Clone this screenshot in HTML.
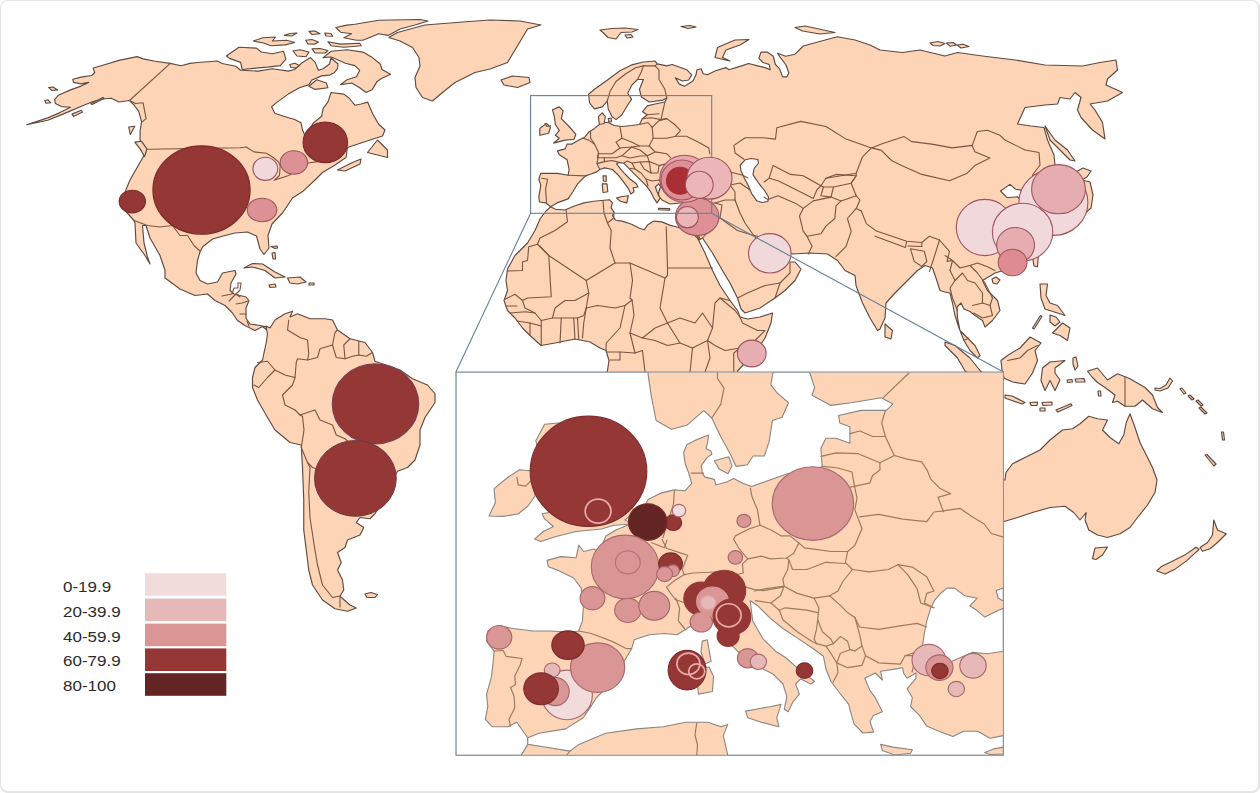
<!DOCTYPE html>
<html lang="en"><head><meta charset="utf-8"><title>Map</title>
<style>
html,body{margin:0;padding:0;background:#fff;}
body{width:1260px;height:793px;overflow:hidden;position:relative;font-family:"Liberation Sans",sans-serif;}
#frame{position:absolute;left:0;top:0;width:1257px;height:790px;border:1px solid #e4e4e4;border-right-width:2px;border-bottom-width:2px;border-radius:8px;}
svg{position:absolute;left:0;top:0;}
.lg{position:absolute;left:63px;font-size:17px;line-height:17px;color:#2b2b2b;letter-spacing:0px;transform-origin:left bottom;transform:scaleY(0.88);}
</style></head><body>
<svg width="1260" height="793" viewBox="0 0 1260 793">
<defs><clipPath id="ic"><rect x="455.9" y="372.0" width="547.5" height="383.29999999999995"/></clipPath></defs>

<g id="land">
<polygon points="26.6,124.7 47.8,117.9 59.9,112.6 70.5,107.3 61.4,106.6 55.4,103.5 54.6,99.7 58.4,95.2 70.5,89.9 81.1,86.1 88.7,82.4 81.1,83.9 73.5,82.4 72.8,79.3 81.1,77.1 91.7,75.5 94.7,72.5 93.2,68 103.8,65 118.9,60.4 137.1,56.6 143.1,58.9 155.2,61.2 170.3,63.4 180.9,65.7 190,63.4 197.5,62.5 217.5,61 222,63.5 235.9,66.3 240.6,70.3 258.1,71.1 272.4,68.7 288.3,71.1 294.6,69.5 302.5,62.4 310.5,57.6 315.2,62.4 318.4,70.3 323.2,68.7 329.5,64 331,58 338,64 337.5,68.7 334.3,72.7 329.5,75.1 321.6,75.9 312,80 308.9,84.6 299.4,87.8 288.3,94.1 277.1,102.1 271.6,106.8 274.8,113.2 283.5,116.3 294.6,119.5 301,122.7 302.5,130 306,138 310,128 313.7,122.7 321.6,116.3 323.2,108.4 327.9,102.1 331.1,92.5 343.8,94.1 349,98 354.9,105.2 361,104 367.6,102.1 372.4,113.2 378.7,124.3 385,130 382.5,136 370,140 355,145 347.5,147.5 346,157.5 335,165 322.5,172.5 315,180 302.6,191.6 292.5,198 282.5,213 272,224 268,235.5 269,248 264,254.5 260,249 256.5,236 247.5,232 235,233 225,235.5 212.5,239 202.5,247 200,252 197.5,260.5 196,273 200,280.5 207.5,284 217.5,282 222.5,273 235,270.5 236,274 231,283 230,290.5 234,294 246,297 249,300.5 246,308 246,318 250,324 260,325.5 267.5,327 268,331 262.5,326.5 255,330.5 245,325.5 237.5,320.5 232.5,313 225,305.5 215,300.5 207.5,294 195,295.5 180,289 165,278 165,270.5 160,255.5 150,238 146,225.5 142.5,225.5 144,243 147.5,257 150,264 145,255.5 136,243 135,223 134,220.5 125,210.5 122.5,198 130,180 140,162.5 146,152 143.1,148.9 140.1,139.8 140.1,130.8 141.6,121.7 138.6,111.1 134,105 129.5,100.5 118.9,102 111.3,98.2 102.3,99 91.7,102 82.6,105.8 73.5,109.6 62.9,114.1 47.8,120.2" fill="#fdd4b5" stroke="#5f4a40" stroke-width="1.15" stroke-linejoin="round"/>
<polygon points="266,326 270,328 275,320 285,313.75 292.5,311.25 290,317 297.5,313.75 310,318.75 325,318.75 332.5,320 337.5,330 350,338.75 365,342.5 372.5,352.5 375,361.25 400,370 412.5,378.75 427.5,385 435,393.75 435,402.5 425,417.5 420,430 420,445 415,460 407.5,467.5 397.5,471.25 385,495 375,513.75 370,518.75 360,517.5 356.25,522.5 363.75,527.5 360,535 347.5,540 345,547.5 337.5,552.5 341.25,562.5 337.5,570 342.5,580 343.75,590 340,596.25 350,605 356.25,608 347.5,611.25 335,608.75 322.5,600 312.5,585 308.75,570 306.25,550 303.75,530 303.75,500 302.5,467.5 301.25,445 290,442.5 275,430 267.5,417.5 257.5,400 252.5,387.5 252.5,377.5 255,367.5 262.5,360 266.25,342.5 267.5,334" fill="#fdd4b5" stroke="#5f4a40" stroke-width="1.15" stroke-linejoin="round"/>
<polygon points="388.75,37.5 397.5,32.5 425,25 462.5,22 490,20 520,21 541,25 527.5,29 522.5,37.5 515,50 507.5,62.5 490,69 475,72.5 455,82.5 442.5,92.5 432.5,101 422.5,97.5 416,87.5 415,77.5 420,66 419,57.5 412.5,47.5 400,41" fill="#fdd4b5" stroke="#5f4a40" stroke-width="1.15" stroke-linejoin="round"/>
<polygon points="501,80 512.5,76 529,77.5 530,82.5 517.5,87.5 504,85" fill="#fdd4b5" stroke="#5f4a40" stroke-width="1.15" stroke-linejoin="round"/>
<polygon points="367.5,152.5 377.5,140 387.5,150 387.5,157.5 377.5,155" fill="#fdd4b5" stroke="#5f4a40" stroke-width="1.15" stroke-linejoin="round"/>
<polygon points="337.5,170 352.5,162.5 361,159 360,164 345,171" fill="#fdd4b5" stroke="#5f4a40" stroke-width="1.15" stroke-linejoin="round"/>
<polygon points="134.8,142.1 141.6,141.3 146.9,148.9 144.6,156.5 140.1,148.9" fill="#fdd4b5" stroke="#5f4a40" stroke-width="1.15" stroke-linejoin="round"/>
<polygon points="244,268 252.5,263.5 262.5,264 275,272 285,277 275,278 265,270.5 252.5,267" fill="#fdd4b5" stroke="#5f4a40" stroke-width="1.15" stroke-linejoin="round"/>
<polygon points="287.5,278 300,277 306,282 297.5,284 290,283" fill="#fdd4b5" stroke="#5f4a40" stroke-width="1.15" stroke-linejoin="round"/>
<polygon points="269,285 275,284 276,287 270,287.5" fill="#fdd4b5" stroke="#5f4a40" stroke-width="1.15" stroke-linejoin="round"/>
<polygon points="309,283 314,283 314,285 309,285" fill="#fdd4b5" stroke="#5f4a40" stroke-width="1.15" stroke-linejoin="round"/>
<polygon points="550.6,206.8 555.4,209.2 564.9,210 574.4,206 584,202.9 593.5,201.3 601.4,200.5 609.4,199.7 612.5,202.9 611,207.6 614.1,212.4 612.5,215.6 615.7,220.3 622.1,221.1 631.6,224.3 639.5,228.3 644.3,229.8 647.5,225.1 653.8,221.1 661.7,221.9 669.7,225.1 676,226.7 690,231 697.5,238 705,253 712.5,270.5 720,285.5 730,300.5 737.5,310.5 740,317 747.5,319 760,317 772.5,313 771,323 765,338 755,353 745,363 737.5,371 735,400 600,400 607.5,370.5 609,360.5 606,350.5 600,348 590,342 575,339 555,343 541,345.5 530,335.5 522.5,328 515,318 507.5,310.5 504,300.5 507.5,290.5 506,280.5 507.5,269 515,255.5 527.5,243 535,230.5 540,219 546,211" fill="#fdd4b5" stroke="#5f4a40" stroke-width="1.15" stroke-linejoin="round"/>
<polygon points="538.8,179.2 540.8,173.4 557.4,173.4 568.1,175.3 569.1,169.5 567.1,159.7 559.3,154.8 557.4,150.9 565.2,148.9 567.1,144.1 572,144.1 578.9,140.1 584.7,137.2 588.6,132.3 594.5,128.4 599.4,124.5 598.4,116.7 602.3,112.8 605.3,116.7 604.3,122.5 608.2,122.5 614.1,125.5 621.9,126.5 631.6,125.5 639.5,124.5 642.4,118.6 647.3,114.7 642.4,111.8 647.3,105.9 655.1,104 664.9,102 666.8,98.1 662.9,100.1 649.2,102 641.4,97.1 639.5,89.3 643.4,79.5 637.5,79.5 631.6,85.4 627.7,93.2 631.6,99.1 627.7,105 621.9,114.7 616,119.6 612.1,116.7 608.2,108.9 607.2,101 602.3,106.9 594.5,108.9 589.6,103 588.6,94.2 594.5,89.3 608.2,79.5 619.9,70.8 631.6,64.9 643.4,62 655.1,61 657.1,63.9 666.8,65.9 672.2,64.5 686.7,69.7 691.8,74.8 688.7,80 682.5,81 675.3,77.9 679.4,84.1 684.6,86.2 692.9,81 696,74.8 697,69.7 701.1,68.7 703.2,73.8 707.3,74.8 715.6,70.7 725.9,67.6 729,69.7 742.4,65.6 748.6,63.5 756.8,65.6 765.1,67.6 770.2,69.7 769.2,64.5 763,62.5 758.9,58.3 761,52.1 767.1,52.1 773.3,56.3 775.4,64.5 779.5,68.7 782.6,76.9 786.8,76.9 788.8,72.8 785.7,64.5 779.5,56.3 777.5,53.2 785.7,56.3 795,54.2 803.3,46 818.7,41.8 837.3,36.7 855,40 870,45 880,50 902.5,52.5 920,50 945,56 957.5,52.5 982.5,56 1015,60 1045,65 1082.5,66 1100,62.5 1116,60 1117.5,70 1107.5,79 1106,85 1122.5,92.5 1107.5,101 1090,104 1095,110 1102.5,122.5 1105,139 1092.5,130 1081,117.5 1077.5,110 1081,97.5 1075,92.5 1070,99 1060,97.5 1057.5,104 1045,105 1025,107.5 1017.5,124 1031,126 1044,127.5 1047.5,140 1054,155 1055,165 1050,180 1040,195 1045,200 1050,215 1040,218 1035,205 1021.3,190.1 1015.6,189.2 1010,184.4 1000.5,191 1007.1,197.7 1017.5,196.7 1025,205 1020,215 1030,230 1025,250 1015,262 1005,270 995,273 982.5,280.5 987.5,290.5 997.5,300.5 1000,310.5 992.5,320.5 985,327 982.5,320.5 975,315.5 970,311.5 964,309 961,303 957,307 957.5,318 960,330.5 967.5,338 975,345.5 980,355.5 977.5,358 970,350.5 964,340.5 959,328 955,315.5 952.5,303 950,293 945,292 940,290.5 936,278 932.5,268 925,265.5 917.5,270.5 907.5,280.5 895,293 886,303 885,318 880,329 877.5,330.5 870,318 862.5,303 856,285.5 855,275.5 845,270.5 837.5,260.5 827.5,254 810,253 792.5,254 785,250 775,243 765,238 754,235.5 760,243 770,255 780,262 790,262 795,262 801,269 795,280.5 785,290.5 775,298 760,308 745,313 741,309 737.5,298 730,283 722.5,270.5 712.5,253 702.5,238 699,240 697.5,236 697,230 700,220 702,212 704,205 695,203 680,203 670,204 662,200 658,195 660,188 661,187.1 658.6,183.8 655.4,187 657,191.7 660.2,198.1 657,202.9 653.8,198.1 650.6,191.7 645.9,185.4 641.1,180.6 634.8,174.3 628.4,167.9 623.7,163.2 618.9,162.4 616.5,164 619.7,167.9 623.7,172.7 630,179 636.3,183.8 637.9,187 633.2,187.8 634,191.7 630.8,194.1 628.4,188.6 623.7,182.2 618.9,175.9 612.5,169.5 604.6,167.9 599.8,169.5 596.7,171.9 590.3,174.3 585.6,175.9 582.4,179 577.6,183.8 572.9,191.7 568.1,198.9 557,202.9 550.6,206.8 545.9,202.9 539.5,202 538.8,196.8 540.8,185.1" fill="#fdd4b5" stroke="#5f4a40" stroke-width="1.15" stroke-linejoin="round"/>
<polygon points="552.5,109.8 559.3,106.9 563.2,110.8 561.3,118.6 569.1,126.5 575.9,134.3 574,139.2 565.2,140.1 553.5,143.1 559.3,138.2 555.4,135.3 559.3,130.4 555.4,124.5 554.4,116.7" fill="#fdd4b5" stroke="#5f4a40" stroke-width="1.15" stroke-linejoin="round"/>
<polygon points="539.8,128.4 546.6,123.5 550.5,127.4 548.6,133.3 539.8,135.3" fill="#fdd4b5" stroke="#5f4a40" stroke-width="1.15" stroke-linejoin="round"/>
<polygon points="715,57.5 717.5,47.5 735,40 749,39.5 740,45 726,50 722.5,57.5 730,61" fill="#fdd4b5" stroke="#5f4a40" stroke-width="1.15" stroke-linejoin="round"/>
<polygon points="795,27.5 805,26 835,32.5 820,34 802.5,31" fill="#fdd4b5" stroke="#5f4a40" stroke-width="1.15" stroke-linejoin="round"/>
<polygon points="681,26.5 690,25.5 696,27 688,28.5" fill="#fdd4b5" stroke="#5f4a40" stroke-width="1.15" stroke-linejoin="round"/>
<polygon points="600,30 612,28.5 625,28 638,29.5 632,32 621,32.5 616,39 608,37.5 604,33.5" fill="#fdd4b5" stroke="#5f4a40" stroke-width="1.15" stroke-linejoin="round"/>
<polygon points="1045,126 1055,140 1067.5,150 1075,161 1070,160 1060,150 1050,140" fill="#fdd4b5" stroke="#5f4a40" stroke-width="1.15" stroke-linejoin="round"/>
<polygon points="1075,172.5 1083,168 1091,171 1087,177 1080,181 1077,177" fill="#fdd4b5" stroke="#5f4a40" stroke-width="1.15" stroke-linejoin="round"/>
<polygon points="1082,180 1090,182 1093,195 1091,208 1082,216 1070,222 1062,226 1060,222 1072,214 1080,204 1084,192" fill="#fdd4b5" stroke="#5f4a40" stroke-width="1.15" stroke-linejoin="round"/>
<polygon points="1032.6,257.2 1038.3,256.3 1037.4,266.7 1034,266" fill="#fdd4b5" stroke="#5f4a40" stroke-width="1.15" stroke-linejoin="round"/>
<polygon points="992,279 996,277 1000,280 997,284 993,283" fill="#fdd4b5" stroke="#5f4a40" stroke-width="1.15" stroke-linejoin="round"/>
<polygon points="885,324 892.5,330.5 891,339 885,337" fill="#fdd4b5" stroke="#5f4a40" stroke-width="1.15" stroke-linejoin="round"/>
<polygon points="1040,284 1047.5,284 1046,295.5 1050,303 1057.5,305.5 1065,315.5 1057.5,313 1045,309 1041,298" fill="#fdd4b5" stroke="#5f4a40" stroke-width="1.15" stroke-linejoin="round"/>
<polygon points="1052.5,333 1062.5,323 1070,328 1067.5,340.5 1060,335.5" fill="#fdd4b5" stroke="#5f4a40" stroke-width="1.15" stroke-linejoin="round"/>
<polygon points="1050,315 1056,317 1060,322 1055,326 1050,322" fill="#fdd4b5" stroke="#5f4a40" stroke-width="1.15" stroke-linejoin="round"/>
<polygon points="1032.5,328 1034,329 1042,316.5 1040.5,315.5" fill="#fdd4b5" stroke="#5f4a40" stroke-width="1.15" stroke-linejoin="round"/>
<polygon points="1001,360.5 1007.5,355.5 1020,348 1030,337 1041,343 1035,350.5 1037.5,360.5 1032.5,373 1025,384 1012.5,382 1004,378 1002,370" fill="#fdd4b5" stroke="#5f4a40" stroke-width="1.15" stroke-linejoin="round"/>
<polygon points="945,342 955,345.5 970,358 980,370.5 990,380 985,385 965,371 957.5,358 945,345.5" fill="#fdd4b5" stroke="#5f4a40" stroke-width="1.15" stroke-linejoin="round"/>
<polygon points="1042.5,368 1050,362 1065,360.5 1055,368 1055,373 1060,380 1055,390.5 1050,380.5 1045,390.5 1041,380.5" fill="#fdd4b5" stroke="#5f4a40" stroke-width="1.15" stroke-linejoin="round"/>
<polygon points="1073,358 1076,357 1078,366 1075,370 1073,364" fill="#fdd4b5" stroke="#5f4a40" stroke-width="1.15" stroke-linejoin="round"/>
<polygon points="1087.5,371.25 1097.5,368 1107.5,380 1117.5,373.75 1130,378.75 1145,387.5 1152.5,395 1157.5,407.5 1162.5,412.5 1152.5,408.75 1142.5,400 1135,406.25 1125,406.25 1117.5,401.25 1112.5,402.5 1115,395 1105,387.5 1097.5,382.5 1092,377" fill="#fdd4b5" stroke="#5f4a40" stroke-width="1.15" stroke-linejoin="round"/>
<polygon points="1005,395 1012,396 1025,402.5 1022,404 1005,398" fill="#fdd4b5" stroke="#5f4a40" stroke-width="1.15" stroke-linejoin="round"/>
<polygon points="1030,402.5 1037.5,402 1037,405.5 1031,405.5" fill="#fdd4b5" stroke="#5f4a40" stroke-width="1.15" stroke-linejoin="round"/>
<polygon points="1042,402.5 1052,402 1052,405 1043,405.5" fill="#fdd4b5" stroke="#5f4a40" stroke-width="1.15" stroke-linejoin="round"/>
<polygon points="1040,408 1045,408 1045,411 1040,411" fill="#fdd4b5" stroke="#5f4a40" stroke-width="1.15" stroke-linejoin="round"/>
<polygon points="1056,410 1071,403.75 1072,405.5 1058,412" fill="#fdd4b5" stroke="#5f4a40" stroke-width="1.15" stroke-linejoin="round"/>
<polygon points="1155,390 1160,391 1168,388 1172.5,381 1170,378 1166,385 1160,388.5 1155,388" fill="#fdd4b5" stroke="#5f4a40" stroke-width="1.15" stroke-linejoin="round"/>
<polygon points="1005,480 1006,472.5 1012.5,463.75 1025,457.5 1040,450 1050,440 1062.5,430 1072.5,428.75 1080,423.75 1088.75,416.25 1097.5,418.75 1107.5,420 1102.5,430 1110,437.5 1118.75,443.75 1123.75,435 1126.25,422.5 1130,413.75 1135,427.5 1140,442.5 1146.25,455 1152.5,467.5 1157,480 1155,492.5 1147.5,505 1137.5,517.5 1130,527.5 1120,533.75 1107.5,537.5 1097.5,535 1088.75,530 1085,520 1086.25,512.5 1080,520 1073.75,512.5 1065,506.25 1050,507.5 1032.5,512.5 1017.5,517.5 1005,521.25 995,521 995,480" fill="#fdd4b5" stroke="#5f4a40" stroke-width="1.15" stroke-linejoin="round"/>
<polygon points="1092.5,558.75 1095,548 1107.5,547 1102.5,555 1096,559.5" fill="#fdd4b5" stroke="#5f4a40" stroke-width="1.15" stroke-linejoin="round"/>
<polygon points="1213.75,520 1217.5,530 1226.25,533.75 1217.5,542.5 1210,548.75 1202.5,551.25 1200,547.5 1207.5,542.5 1212.5,535" fill="#fdd4b5" stroke="#5f4a40" stroke-width="1.15" stroke-linejoin="round"/>
<polygon points="1196,547.2 1199.1,549.3 1186.8,560.6 1175.4,568.9 1165.1,574 1156.8,571 1161,566.8 1171.3,561.7 1185.7,554.4" fill="#fdd4b5" stroke="#5f4a40" stroke-width="1.15" stroke-linejoin="round"/>
<polygon points="1205,455 1207,454.5 1216,464 1214,466" fill="#fdd4b5" stroke="#5f4a40" stroke-width="1.15" stroke-linejoin="round"/>
<polygon points="365,594 371,592.5 377.5,594.5 375,597.5 367,597.5" fill="#fdd4b5" stroke="#5f4a40" stroke-width="1.15" stroke-linejoin="round"/>
<polygon points="72,114.1 81.1,110.3 82.5,112 73.5,116.4" fill="#fdd4b5" stroke="#5f4a40" stroke-width="1.15" stroke-linejoin="round"/>
<polygon points="335.9,27.5 347,25.1 354.9,24.3 378.7,20.3 420,19.5 428,21 415,25 400,29 388.3,35.4 378.7,33.8 362.9,40.2 356.5,40.2 343.8,37.8 351.7,33.8 340.6,32.2" fill="#fdd4b5" stroke="#5f4a40" stroke-width="1.15" stroke-linejoin="round"/>
<polygon points="327.9,41.7 340.6,44.1 359.7,43.3 361.3,45.7 343.8,47.3 331.1,45.7" fill="#fdd4b5" stroke="#5f4a40" stroke-width="1.15" stroke-linejoin="round"/>
<polygon points="323.2,57.6 331.1,51.3 347,49.7 362.9,52.1 372.4,57.6 380.3,64 381.9,69.5 390.6,74.3 381.9,78.3 377.1,81.4 372.4,89.4 366,92.5 359.7,87.8 351.7,83 340.6,84.6 347,79.8 356.5,76.7 359.7,70.3 354.9,65.6 345.4,63.2 338,60 331,57" fill="#fdd4b5" stroke="#5f4a40" stroke-width="1.15" stroke-linejoin="round"/>
<polygon points="308.9,86.2 316.8,79.8 326.3,83 327.9,87.8 315.2,89.4" fill="#fdd4b5" stroke="#5f4a40" stroke-width="1.15" stroke-linejoin="round"/>
<polygon points="226.3,56 239,47.3 256.5,48.1 261.3,52 272.4,53.7 283.5,51.3 285.9,59.2 280.3,65.6 267.6,67.1 258.1,67.9 242.2,69.5 240.6,62.4 229.5,58.4" fill="#fdd4b5" stroke="#5f4a40" stroke-width="1.15" stroke-linejoin="round"/>
<polygon points="253.3,41 262.9,37.8 275.6,37 272.4,41 286.7,40.2 294.6,42.5 285.1,44.9 270.8,45.7 264.4,43.3" fill="#fdd4b5" stroke="#5f4a40" stroke-width="1.15" stroke-linejoin="round"/>
<polygon points="284.3,35.4 290,33.5 297,33 292,36" fill="#fdd4b5" stroke="#5f4a40" stroke-width="1.15" stroke-linejoin="round"/>
<polygon points="308.9,31.4 315,31 320,33.8 312,34.5" fill="#fdd4b5" stroke="#5f4a40" stroke-width="1.15" stroke-linejoin="round"/>
<polygon points="324.8,33 331,33.5 332.7,36.2 326,36" fill="#fdd4b5" stroke="#5f4a40" stroke-width="1.15" stroke-linejoin="round"/>
<polygon points="305.7,40.2 312,39.5 318.4,42 315,44.1 308,44" fill="#fdd4b5" stroke="#5f4a40" stroke-width="1.15" stroke-linejoin="round"/>
<polygon points="293,51 300,49.7 308.9,52 306,56.8 297,56" fill="#fdd4b5" stroke="#5f4a40" stroke-width="1.15" stroke-linejoin="round"/>
<polygon points="312,48.9 320,48.5 327.9,50.5 325,53 315,52.9" fill="#fdd4b5" stroke="#5f4a40" stroke-width="1.15" stroke-linejoin="round"/>
<polygon points="289.8,64.5 295,63.2 299.4,65.5 296,67.9 291,67.5" fill="#fdd4b5" stroke="#5f4a40" stroke-width="1.15" stroke-linejoin="round"/>
<polygon points="616.5,198.1 622.1,196.5 628.4,195.7 626.8,202.9 620.5,201.3" fill="#fdd4b5" stroke="#5f4a40" stroke-width="1.15" stroke-linejoin="round"/>
<polygon points="602.2,183.8 607,183.8 607.8,191.7 603,192.5" fill="#fdd4b5" stroke="#5f4a40" stroke-width="1.15" stroke-linejoin="round"/>
<polygon points="603,175.9 606.2,175.9 606.2,181.4 603.5,181" fill="#fdd4b5" stroke="#5f4a40" stroke-width="1.15" stroke-linejoin="round"/>
<polygon points="658.6,208.2 669.7,208.6 669.7,210.2 658.6,209.8" fill="#fdd4b5" stroke="#5f4a40" stroke-width="1.15" stroke-linejoin="round"/>
<polygon points="608.2,118.6 611.1,118 611.6,121.6 609,122" fill="#fdd4b5" stroke="#5f4a40" stroke-width="1.15" stroke-linejoin="round"/>
<polygon points="1180,389 1182,388 1186,393 1184,394" fill="#fdd4b5" stroke="#5f4a40" stroke-width="1.15" stroke-linejoin="round"/>
<polygon points="1188,396 1190,395 1194,399 1192,400" fill="#fdd4b5" stroke="#5f4a40" stroke-width="1.15" stroke-linejoin="round"/>
<polygon points="1196,401 1198,400 1203,405 1201,406" fill="#fdd4b5" stroke="#5f4a40" stroke-width="1.15" stroke-linejoin="round"/>
<polygon points="1199,408 1201,407 1207,413 1205,414" fill="#fdd4b5" stroke="#5f4a40" stroke-width="1.15" stroke-linejoin="round"/>
<polygon points="1221.5,432 1223.5,432 1224.5,440 1222.5,440" fill="#fdd4b5" stroke="#5f4a40" stroke-width="1.15" stroke-linejoin="round"/>
<polygon points="1067,380 1072,379.5 1072.5,382 1067.5,382.5" fill="#fdd4b5" stroke="#5f4a40" stroke-width="1.15" stroke-linejoin="round"/>
<polygon points="1075,379 1084,378.5 1085,382 1076,382" fill="#fdd4b5" stroke="#5f4a40" stroke-width="1.15" stroke-linejoin="round"/>
<polygon points="1098,391 1100.5,391 1101,396 1098.5,396" fill="#fdd4b5" stroke="#5f4a40" stroke-width="1.15" stroke-linejoin="round"/>
<polygon points="271,246.5 277,246 277.5,248 275,248.5" fill="#fdd4b5" stroke="#5f4a40" stroke-width="1.15" stroke-linejoin="round"/>
<polygon points="272,253 275,252.5 275.5,259 273,259" fill="#fdd4b5" stroke="#5f4a40" stroke-width="1.15" stroke-linejoin="round"/>
<polygon points="128.7,127 134.8,126.2 130.3,134.5" fill="#fdd4b5" stroke="#5f4a40" stroke-width="1.15" stroke-linejoin="round"/>
<polygon points="90.9,103.5 103,97.5 104,98.5 92,104.5" fill="#fdd4b5" stroke="#5f4a40" stroke-width="1.15" stroke-linejoin="round"/>
<polygon points="48.6,87.6 53,87 57.6,89.9 52,90.5" fill="#fdd4b5" stroke="#5f4a40" stroke-width="1.15" stroke-linejoin="round"/>
<polygon points="44.8,100.5 48,99.8 50.8,102.8 46,103.2" fill="#fdd4b5" stroke="#5f4a40" stroke-width="1.15" stroke-linejoin="round"/>
<polygon points="625,35 631,34.5 633,37 627,38" fill="#fdd4b5" stroke="#5f4a40" stroke-width="1.15" stroke-linejoin="round"/>
<polygon points="930,43 938,41.5 945,43.5 940,46 933,45.5" fill="#fdd4b5" stroke="#5f4a40" stroke-width="1.15" stroke-linejoin="round"/>
<polygon points="946.5,43 953,42.5 956.5,45 950,46.2" fill="#fdd4b5" stroke="#5f4a40" stroke-width="1.15" stroke-linejoin="round"/>
<polygon points="957,45 963,44.2 969,46.5 961,48" fill="#fdd4b5" stroke="#5f4a40" stroke-width="1.15" stroke-linejoin="round"/>
</g>
<g id="lakes">
<polygon points="740.2,165 745.2,159.8 751,158.5 757.8,159.5 758.5,163 754.1,168.5 753,174.6 758.4,182.8 764.9,191 768.5,197 767.9,201.5 762,202.5 756.7,200.8 751.5,193.3 748.5,186.1 744.5,178.5 741,171" fill="#fff" stroke="#5f4a40" stroke-width="1.15" stroke-linejoin="round"/>
</g>
<g id="borders">
<polyline points="170.3,63.4 129.5,100.5 135.6,103.5 143.1,102.8 146.1,118.7 141.6,122.4" fill="none" stroke="#7a5540" stroke-width="1.1" stroke-linejoin="round" stroke-linecap="round"/>
<polyline points="147.5,149.2 240,147.7 246.2,147 253.9,151.9 266.4,153.3 273.3,157.5 278.2,161.6 280.2,165.8 279.5,175.5 274,180.3 288.6,175.5 291.3,174.1 300,168 308,163 317.7,161.6 330,158 340,150 347,148" fill="none" stroke="#7a5540" stroke-width="1.1" stroke-linejoin="round" stroke-linecap="round"/>
<polyline points="134,220.5 147.5,225.5 160,227 172.5,225.5 180,235.5 187.5,235.5 194,245.5 200,251" fill="none" stroke="#7a5540" stroke-width="1.1" stroke-linejoin="round" stroke-linecap="round"/>
<polyline points="222,296 232,294 234,288 238,288 238,283" fill="none" stroke="#7a5540" stroke-width="1.1" stroke-linejoin="round" stroke-linecap="round"/>
<polyline points="238,283 241,283 240,290 236,294" fill="none" stroke="#7a5540" stroke-width="1.1" stroke-linejoin="round" stroke-linecap="round"/>
<polyline points="229,301 236,294 240,297" fill="none" stroke="#7a5540" stroke-width="1.1" stroke-linejoin="round" stroke-linecap="round"/>
<polyline points="236,304 242,303 248,301" fill="none" stroke="#7a5540" stroke-width="1.1" stroke-linejoin="round" stroke-linecap="round"/>
<polyline points="240,314 246,314" fill="none" stroke="#7a5540" stroke-width="1.1" stroke-linejoin="round" stroke-linecap="round"/>
<polyline points="247,321 249,326" fill="none" stroke="#7a5540" stroke-width="1.1" stroke-linejoin="round" stroke-linecap="round"/>
<polyline points="288.75,320 287.5,330 300,337.5 307.5,340 308.75,353.75 307.5,360" fill="none" stroke="#7a5540" stroke-width="1.1" stroke-linejoin="round" stroke-linecap="round"/>
<polyline points="307.5,360 317.5,357.5 320,348.75 332.5,345 336.25,357.5 345,358.75 352.5,356.25 358.75,355 366.25,356.25 372.5,352.5" fill="none" stroke="#7a5540" stroke-width="1.1" stroke-linejoin="round" stroke-linecap="round"/>
<polyline points="332.5,345 335,332.5 337.5,330" fill="none" stroke="#7a5540" stroke-width="1.1" stroke-linejoin="round" stroke-linecap="round"/>
<polyline points="345,358.75 343.75,345 350,338.75" fill="none" stroke="#7a5540" stroke-width="1.1" stroke-linejoin="round" stroke-linecap="round"/>
<polyline points="358.75,355 358.75,341.25" fill="none" stroke="#7a5540" stroke-width="1.1" stroke-linejoin="round" stroke-linecap="round"/>
<polyline points="257.5,362.5 267.5,361.25 275,370 267.5,377.5 258.75,387.5 253.75,385" fill="none" stroke="#7a5540" stroke-width="1.1" stroke-linejoin="round" stroke-linecap="round"/>
<polyline points="275,370 285,375 295,377.5 296.25,362.5 297.5,358.75 307.5,360" fill="none" stroke="#7a5540" stroke-width="1.1" stroke-linejoin="round" stroke-linecap="round"/>
<polyline points="295,377.5 292.5,385 282.5,395 285,405 295,410 300,415 315,410 320,420 332.5,425 336.25,435 345,438.75 352,445" fill="none" stroke="#7a5540" stroke-width="1.1" stroke-linejoin="round" stroke-linecap="round"/>
<polyline points="300,415 302.5,416.25 304,430 301.25,447.5" fill="none" stroke="#7a5540" stroke-width="1.1" stroke-linejoin="round" stroke-linecap="round"/>
<polyline points="301.25,447.5 307.5,462.5 312.5,467.5 320,470" fill="none" stroke="#7a5540" stroke-width="1.1" stroke-linejoin="round" stroke-linecap="round"/>
<polyline points="307.5,462.5 310,467.5 308.75,492.5 310,517.5 313.75,542.5 317.5,565 322.5,585 332.5,597.5 340,596" fill="none" stroke="#7a5540" stroke-width="1.1" stroke-linejoin="round" stroke-linecap="round"/>
<polyline points="340,596.5 340,607" fill="none" stroke="#7a5540" stroke-width="1.1" stroke-linejoin="round" stroke-linecap="round"/>
<polyline points="566,209.5 567.5,221.75 555,230.5 540,238 537.5,244.25" fill="none" stroke="#7a5540" stroke-width="1.1" stroke-linejoin="round" stroke-linecap="round"/>
<polyline points="537.5,244.25 528.75,246.75 527.5,260.5 522.5,261.75 522.5,270.5 507.5,271" fill="none" stroke="#7a5540" stroke-width="1.1" stroke-linejoin="round" stroke-linecap="round"/>
<polyline points="537.5,244.25 548.75,255.5 551.25,296.75 527.5,298 522.5,300.5 515,294.25 505,299.25" fill="none" stroke="#7a5540" stroke-width="1.1" stroke-linejoin="round" stroke-linecap="round"/>
<polyline points="540,246 548.75,255.5 586.25,280.5 588.75,293" fill="none" stroke="#7a5540" stroke-width="1.1" stroke-linejoin="round" stroke-linecap="round"/>
<polyline points="586.25,280.5 615,263" fill="none" stroke="#7a5540" stroke-width="1.1" stroke-linejoin="round" stroke-linecap="round"/>
<polyline points="615,263 610,248 611.25,230.5 607.5,223 604,213 603,200.5" fill="none" stroke="#7a5540" stroke-width="1.1" stroke-linejoin="round" stroke-linecap="round"/>
<polyline points="607.5,223 613.75,218 614,212.4" fill="none" stroke="#7a5540" stroke-width="1.1" stroke-linejoin="round" stroke-linecap="round"/>
<polyline points="588.75,293 575,300.5 565,300.5 555,308 552.5,318 541.25,320.5 535,313 525,308 522.5,300.5" fill="none" stroke="#7a5540" stroke-width="1.1" stroke-linejoin="round" stroke-linecap="round"/>
<polyline points="510,313 525,311.75 535,313" fill="none" stroke="#7a5540" stroke-width="1.1" stroke-linejoin="round" stroke-linecap="round"/>
<polyline points="506,306 517,306" fill="none" stroke="#7a5540" stroke-width="1.1" stroke-linejoin="round" stroke-linecap="round"/>
<polyline points="588.75,293 586.25,308 597.5,305.5 615,308 625,305.5 632,300" fill="none" stroke="#7a5540" stroke-width="1.1" stroke-linejoin="round" stroke-linecap="round"/>
<polyline points="586.25,308 583.75,323 582.5,338" fill="none" stroke="#7a5540" stroke-width="1.1" stroke-linejoin="round" stroke-linecap="round"/>
<polyline points="625,305.5 620,328 606.25,343 606,350.5" fill="none" stroke="#7a5540" stroke-width="1.1" stroke-linejoin="round" stroke-linecap="round"/>
<polyline points="561.25,318 560,343" fill="none" stroke="#7a5540" stroke-width="1.1" stroke-linejoin="round" stroke-linecap="round"/>
<polyline points="573.75,318 575,339.25" fill="none" stroke="#7a5540" stroke-width="1.1" stroke-linejoin="round" stroke-linecap="round"/>
<polyline points="577.5,318 578.75,339.25" fill="none" stroke="#7a5540" stroke-width="1.1" stroke-linejoin="round" stroke-linecap="round"/>
<polyline points="552.5,318 561.25,318 573.75,318 577.5,318 583.75,315.5 586.25,308" fill="none" stroke="#7a5540" stroke-width="1.1" stroke-linejoin="round" stroke-linecap="round"/>
<polyline points="541.25,320.5 541.25,345.5" fill="none" stroke="#7a5540" stroke-width="1.1" stroke-linejoin="round" stroke-linecap="round"/>
<polyline points="530,323 530,335.5" fill="none" stroke="#7a5540" stroke-width="1.1" stroke-linejoin="round" stroke-linecap="round"/>
<polyline points="517,321 530,323 541.25,326" fill="none" stroke="#7a5540" stroke-width="1.1" stroke-linejoin="round" stroke-linecap="round"/>
<polyline points="666.25,226.75 667.5,268" fill="none" stroke="#7a5540" stroke-width="1.1" stroke-linejoin="round" stroke-linecap="round"/>
<polyline points="667.5,268 712.5,268" fill="none" stroke="#7a5540" stroke-width="1.1" stroke-linejoin="round" stroke-linecap="round"/>
<polyline points="667.5,268 667.5,275.5 665,278 630,263 615,263" fill="none" stroke="#7a5540" stroke-width="1.1" stroke-linejoin="round" stroke-linecap="round"/>
<polyline points="665,278 660,308 667.5,323" fill="none" stroke="#7a5540" stroke-width="1.1" stroke-linejoin="round" stroke-linecap="round"/>
<polyline points="630,263 632.5,280.5 630,298 632,300" fill="none" stroke="#7a5540" stroke-width="1.1" stroke-linejoin="round" stroke-linecap="round"/>
<polyline points="632,300 634,315 630,333" fill="none" stroke="#7a5540" stroke-width="1.1" stroke-linejoin="round" stroke-linecap="round"/>
<polyline points="667.5,323 655,328 642.5,338 630,333" fill="none" stroke="#7a5540" stroke-width="1.1" stroke-linejoin="round" stroke-linecap="round"/>
<polyline points="667.5,323 680,318 695,323 702.5,313 712.5,328" fill="none" stroke="#7a5540" stroke-width="1.1" stroke-linejoin="round" stroke-linecap="round"/>
<polyline points="712.5,328 715,303 720,298 730,300.5" fill="none" stroke="#7a5540" stroke-width="1.1" stroke-linejoin="round" stroke-linecap="round"/>
<polyline points="720,298 735,310.5 740,317" fill="none" stroke="#7a5540" stroke-width="1.1" stroke-linejoin="round" stroke-linecap="round"/>
<polyline points="740,317 742.5,323 757.5,330.5 765,330.5 752.5,343 740,348" fill="none" stroke="#7a5540" stroke-width="1.1" stroke-linejoin="round" stroke-linecap="round"/>
<polyline points="740,348 725,350.5 715,345.5 707.5,340.5" fill="none" stroke="#7a5540" stroke-width="1.1" stroke-linejoin="round" stroke-linecap="round"/>
<polyline points="712.5,328 707.5,340.5" fill="none" stroke="#7a5540" stroke-width="1.1" stroke-linejoin="round" stroke-linecap="round"/>
<polyline points="707.5,340.5 692.5,348 680,343 667.5,323" fill="none" stroke="#7a5540" stroke-width="1.1" stroke-linejoin="round" stroke-linecap="round"/>
<polyline points="740,348 733.75,353 733.75,372" fill="none" stroke="#7a5540" stroke-width="1.1" stroke-linejoin="round" stroke-linecap="round"/>
<polyline points="707.5,340.5 710,358 705,372" fill="none" stroke="#7a5540" stroke-width="1.1" stroke-linejoin="round" stroke-linecap="round"/>
<polyline points="680,343 667.5,345.5 655,340.5 642.5,338" fill="none" stroke="#7a5540" stroke-width="1.1" stroke-linejoin="round" stroke-linecap="round"/>
<polyline points="630,333 635,353 642.5,350.5 645,372" fill="none" stroke="#7a5540" stroke-width="1.1" stroke-linejoin="round" stroke-linecap="round"/>
<polyline points="692.5,348 690,372" fill="none" stroke="#7a5540" stroke-width="1.1" stroke-linejoin="round" stroke-linecap="round"/>
<polyline points="607,352 620,352 635,353" fill="none" stroke="#7a5540" stroke-width="1.1" stroke-linejoin="round" stroke-linecap="round"/>
<polyline points="610,360 620,360 620,352" fill="none" stroke="#7a5540" stroke-width="1.1" stroke-linejoin="round" stroke-linecap="round"/>
<polyline points="697,231 700,239" fill="none" stroke="#7a5540" stroke-width="1.1" stroke-linejoin="round" stroke-linecap="round"/>
<polyline points="737.5,298 747.5,293 765,285.5 780,283" fill="none" stroke="#7a5540" stroke-width="1.1" stroke-linejoin="round" stroke-linecap="round"/>
<polyline points="780,283 775,298" fill="none" stroke="#7a5540" stroke-width="1.1" stroke-linejoin="round" stroke-linecap="round"/>
<polyline points="780,283 790,273 790,263" fill="none" stroke="#7a5540" stroke-width="1.1" stroke-linejoin="round" stroke-linecap="round"/>
<polyline points="708,222 720,218 737.5,230.5 753.75,235.5" fill="none" stroke="#7a5540" stroke-width="1.1" stroke-linejoin="round" stroke-linecap="round"/>
<polyline points="735,200 740,213 745,223 753.75,235.5" fill="none" stroke="#7a5540" stroke-width="1.1" stroke-linejoin="round" stroke-linecap="round"/>
<polyline points="715,203 722,205 720,218" fill="none" stroke="#7a5540" stroke-width="1.1" stroke-linejoin="round" stroke-linecap="round"/>
<polyline points="702.5,238 708,232 708,222 703,216" fill="none" stroke="#7a5540" stroke-width="1.1" stroke-linejoin="round" stroke-linecap="round"/>
<polyline points="722,180 730,185 735,192 735,200" fill="none" stroke="#7a5540" stroke-width="1.1" stroke-linejoin="round" stroke-linecap="round"/>
<polyline points="703,203 715,203 725,200 735,200" fill="none" stroke="#7a5540" stroke-width="1.1" stroke-linejoin="round" stroke-linecap="round"/>
<polyline points="722,175 730,172 742,175 748,178" fill="none" stroke="#7a5540" stroke-width="1.1" stroke-linejoin="round" stroke-linecap="round"/>
<polyline points="730,185 740,183 750,190" fill="none" stroke="#7a5540" stroke-width="1.1" stroke-linejoin="round" stroke-linecap="round"/>
<polyline points="803.2,208.4 799.5,216 803.2,231.1 807,236.2 812.1,246.3 808.3,253.9" fill="none" stroke="#7a5540" stroke-width="1.1" stroke-linejoin="round" stroke-linecap="round"/>
<polyline points="807,236.2 820.9,233.7 825.9,226.1 834.8,218.5 836,205.9 841.1,200.9" fill="none" stroke="#7a5540" stroke-width="1.1" stroke-linejoin="round" stroke-linecap="round"/>
<polyline points="803.2,208.4 813.3,200.9 831,197.1 841.1,200.9 856.2,195.8" fill="none" stroke="#7a5540" stroke-width="1.1" stroke-linejoin="round" stroke-linecap="round"/>
<polyline points="836,256.4 846.1,246.3 851.2,231.1 847.4,218.5 856.2,208.4 861.3,211" fill="none" stroke="#7a5540" stroke-width="1.1" stroke-linejoin="round" stroke-linecap="round"/>
<polyline points="856.2,195.8 860,200 856.2,208.4" fill="none" stroke="#7a5540" stroke-width="1.1" stroke-linejoin="round" stroke-linecap="round"/>
<polyline points="861.3,211 866.3,223.6 876.4,231.1 906.7,241.2 921.8,242.5 929.4,236.2 939.5,240" fill="none" stroke="#7a5540" stroke-width="1.1" stroke-linejoin="round" stroke-linecap="round"/>
<polyline points="875.1,236.2 905.4,247.5 906.7,241.2" fill="none" stroke="#7a5540" stroke-width="1.1" stroke-linejoin="round" stroke-linecap="round"/>
<polyline points="908,246 921.8,246.5 921.8,242.5" fill="none" stroke="#7a5540" stroke-width="1.1" stroke-linejoin="round" stroke-linecap="round"/>
<polyline points="910.5,248.8 914.2,261.4 921.8,266.5 926.9,261.4 924.3,251.3 910.5,248.8" fill="none" stroke="#7a5540" stroke-width="1.1" stroke-linejoin="round" stroke-linecap="round"/>
<polyline points="939.5,240 934.4,256.4 929.4,271.5" fill="none" stroke="#7a5540" stroke-width="1.1" stroke-linejoin="round" stroke-linecap="round"/>
<polyline points="939.5,240 949.5,251.3 947,261.4 952.5,260.5" fill="none" stroke="#7a5540" stroke-width="1.1" stroke-linejoin="round" stroke-linecap="round"/>
<polyline points="744,159.3 735.1,153 733.9,145.4 745.2,137.8 762.9,137.8 775.5,139.1 776.8,127.7 800.7,121.4 825.9,126.5 846.1,139.1 871.4,147.9 862.5,156.8 856.2,173.2 825.9,178.2 820.9,185.8 803.2,175.7 790.6,174.4 773,165.6 769.2,178.2 764.1,182" fill="none" stroke="#7a5540" stroke-width="1.1" stroke-linejoin="round" stroke-linecap="round"/>
<polyline points="871.4,147.9 881.4,144.1 904.1,136.6 911.7,141.6 931.9,144.1 952.1,147.9 972.2,145.4 974.8,151.7 989.9,158 974.8,165.6 967.2,173.2 949.5,180.7 921.8,174.4 901.6,165.6 891.5,160.5 881.4,150.4 871.4,147.9" fill="none" stroke="#7a5540" stroke-width="1.1" stroke-linejoin="round" stroke-linecap="round"/>
<polyline points="972.2,145.4 977.3,131.5 987.4,130.3 1000,135.3 1005,140 1025,150 1039,152.5 1040,165 1032.5,175" fill="none" stroke="#7a5540" stroke-width="1.1" stroke-linejoin="round" stroke-linecap="round"/>
<polyline points="769.2,178.2 778,180.7 793.2,188.3 813.3,198.4 817.1,189.5 820.9,185.8" fill="none" stroke="#7a5540" stroke-width="1.1" stroke-linejoin="round" stroke-linecap="round"/>
<polyline points="764,197 767.9,199.6 778,195.8 795.7,203.4 803.2,208.4" fill="none" stroke="#7a5540" stroke-width="1.1" stroke-linejoin="round" stroke-linecap="round"/>
<polyline points="825.9,178.2 836,174.4 856.2,175.7 851.2,183.2 833.5,187 823.4,187 820.9,195.8 831,197.1 833.5,187" fill="none" stroke="#7a5540" stroke-width="1.1" stroke-linejoin="round" stroke-linecap="round"/>
<polyline points="856.2,173.2 856.2,175.7 851.2,183.2 856.2,195.8" fill="none" stroke="#7a5540" stroke-width="1.1" stroke-linejoin="round" stroke-linecap="round"/>
<polyline points="820.9,185.8 823.4,187" fill="none" stroke="#7a5540" stroke-width="1.1" stroke-linejoin="round" stroke-linecap="round"/>
<polyline points="1032.5,175 1038,182 1050,180" fill="none" stroke="#7a5540" stroke-width="1.1" stroke-linejoin="round" stroke-linecap="round"/>
<polyline points="945,255.5 952.5,260.5 960,268 970,265.5 977.5,263 987.5,266.75 995,270.5" fill="none" stroke="#7a5540" stroke-width="1.1" stroke-linejoin="round" stroke-linecap="round"/>
<polyline points="950,270.5 955,280.5 950,288 952.5,298 957.5,310.5" fill="none" stroke="#7a5540" stroke-width="1.1" stroke-linejoin="round" stroke-linecap="round"/>
<polyline points="952.5,260.5 950,270.5" fill="none" stroke="#7a5540" stroke-width="1.1" stroke-linejoin="round" stroke-linecap="round"/>
<polyline points="955,280.5 962.5,273 967.5,280.5 975,283 982.5,293 982.5,303" fill="none" stroke="#7a5540" stroke-width="1.1" stroke-linejoin="round" stroke-linecap="round"/>
<polyline points="970,265.5 977.5,273 985,283 992.5,298 990,305.5" fill="none" stroke="#7a5540" stroke-width="1.1" stroke-linejoin="round" stroke-linecap="round"/>
<polyline points="972.5,305.5 982.5,303 990,305.5 992.5,315.5 982.5,318 973.75,313" fill="none" stroke="#7a5540" stroke-width="1.1" stroke-linejoin="round" stroke-linecap="round"/>
<polyline points="963.75,340.5 968.75,338" fill="none" stroke="#7a5540" stroke-width="1.1" stroke-linejoin="round" stroke-linecap="round"/>
<polyline points="1007.5,360.5 1020,358 1027.5,350.5 1037.5,345.5" fill="none" stroke="#7a5540" stroke-width="1.1" stroke-linejoin="round" stroke-linecap="round"/>
<polyline points="1125,377 1125,406.25" fill="none" stroke="#7a5540" stroke-width="1.1" stroke-linejoin="round" stroke-linecap="round"/>
<polyline points="541.7,178.3 547.6,179.2 545.6,189 546.6,203.7" fill="none" stroke="#7a5540" stroke-width="1.1" stroke-linejoin="round" stroke-linecap="round"/>
<polyline points="568.1,175.3 585.6,175.9" fill="none" stroke="#7a5540" stroke-width="1.1" stroke-linejoin="round" stroke-linecap="round"/>
<polyline points="599.8,169.5 597,163.6 598,157.7 598.4,151.9 594.5,144.1 588.6,140.1 582.8,138.2" fill="none" stroke="#7a5540" stroke-width="1.1" stroke-linejoin="round" stroke-linecap="round"/>
<polyline points="590.5,131 590.6,138.2 594.5,144.1" fill="none" stroke="#7a5540" stroke-width="1.1" stroke-linejoin="round" stroke-linecap="round"/>
<polyline points="599.4,124.5 604.3,123.5" fill="none" stroke="#7a5540" stroke-width="1.1" stroke-linejoin="round" stroke-linecap="round"/>
<polyline points="619.9,126.5 621.9,138.2" fill="none" stroke="#7a5540" stroke-width="1.1" stroke-linejoin="round" stroke-linecap="round"/>
<polyline points="621.9,138.2 616,142.1 619.9,148" fill="none" stroke="#7a5540" stroke-width="1.1" stroke-linejoin="round" stroke-linecap="round"/>
<polyline points="619.9,148 612.1,153.8 598.4,153.8" fill="none" stroke="#7a5540" stroke-width="1.1" stroke-linejoin="round" stroke-linecap="round"/>
<polyline points="652.2,127.4 653.1,138.2 649.2,146" fill="none" stroke="#7a5540" stroke-width="1.1" stroke-linejoin="round" stroke-linecap="round"/>
<polyline points="621.9,138.2 631.6,142.1 639.5,146 649.2,146" fill="none" stroke="#7a5540" stroke-width="1.1" stroke-linejoin="round" stroke-linecap="round"/>
<polyline points="619.9,148 631.6,147 639.5,146" fill="none" stroke="#7a5540" stroke-width="1.1" stroke-linejoin="round" stroke-linecap="round"/>
<polyline points="598.4,153.8 597.4,157.7 604.3,157.7 616,157.7 621.9,155.8 631.6,147" fill="none" stroke="#7a5540" stroke-width="1.1" stroke-linejoin="round" stroke-linecap="round"/>
<polyline points="597,163.6 604.3,161.6 604.3,157.7" fill="none" stroke="#7a5540" stroke-width="1.1" stroke-linejoin="round" stroke-linecap="round"/>
<polyline points="604.3,161.6 612,160.5 618.9,162.4" fill="none" stroke="#7a5540" stroke-width="1.1" stroke-linejoin="round" stroke-linecap="round"/>
<polyline points="621.9,155.8 630,158 640,156 647.3,155.8 640,150 631.6,147" fill="none" stroke="#7a5540" stroke-width="1.1" stroke-linejoin="round" stroke-linecap="round"/>
<polyline points="652.2,127.4 659,120.6 666.8,118.6 674.6,124.5 680.5,130.4 675.6,136.2 666.8,138.2 653.1,138.2" fill="none" stroke="#7a5540" stroke-width="1.1" stroke-linejoin="round" stroke-linecap="round"/>
<polyline points="675.6,136.2 686.4,136.2 698.1,142.1 708.8,148 709.8,153.8" fill="none" stroke="#7a5540" stroke-width="1.1" stroke-linejoin="round" stroke-linecap="round"/>
<polyline points="649.2,146 655.1,151.9 666.8,153.8 670.7,157.7" fill="none" stroke="#7a5540" stroke-width="1.1" stroke-linejoin="round" stroke-linecap="round"/>
<polyline points="655.1,151.9 647.3,155.8 649.2,161.6 659,165.6 666.8,163.6" fill="none" stroke="#7a5540" stroke-width="1.1" stroke-linejoin="round" stroke-linecap="round"/>
<polyline points="647.3,114.7 659,113.8" fill="none" stroke="#7a5540" stroke-width="1.1" stroke-linejoin="round" stroke-linecap="round"/>
<polyline points="642.4,118.6 651.2,117.7 661,119.6" fill="none" stroke="#7a5540" stroke-width="1.1" stroke-linejoin="round" stroke-linecap="round"/>
<polyline points="639.5,124.5 648,122.5 652.2,127.4" fill="none" stroke="#7a5540" stroke-width="1.1" stroke-linejoin="round" stroke-linecap="round"/>
<polyline points="664.9,102 662.9,110.8 661,119.6 666.8,118.6" fill="none" stroke="#7a5540" stroke-width="1.1" stroke-linejoin="round" stroke-linecap="round"/>
<polyline points="666.8,98.1 664.9,89.3 659,79.5 659,69.8 655.1,65.9" fill="none" stroke="#7a5540" stroke-width="1.1" stroke-linejoin="round" stroke-linecap="round"/>
<polyline points="607.2,101 610.1,91.3 616,81.5 625.8,73.7 635.6,67.8 643.4,65.9" fill="none" stroke="#7a5540" stroke-width="1.1" stroke-linejoin="round" stroke-linecap="round"/>
<polyline points="637.5,79.5 641.4,71.7 643.4,65.9" fill="none" stroke="#7a5540" stroke-width="1.1" stroke-linejoin="round" stroke-linecap="round"/>
<polyline points="643.4,65.9 651.2,65.9 655.1,65.9 657.1,63.9" fill="none" stroke="#7a5540" stroke-width="1.1" stroke-linejoin="round" stroke-linecap="round"/>
<polyline points="623.7,163.2 627,161 632,163 640,162 649.2,161.6" fill="none" stroke="#7a5540" stroke-width="1.1" stroke-linejoin="round" stroke-linecap="round"/>
<polyline points="632,163 635,169 641,173 646,179 648,186" fill="none" stroke="#7a5540" stroke-width="1.1" stroke-linejoin="round" stroke-linecap="round"/>
<polyline points="640,162 644,169 651,173 649.2,161.6" fill="none" stroke="#7a5540" stroke-width="1.1" stroke-linejoin="round" stroke-linecap="round"/>
<polyline points="646,179 652,181 659,180 662,183" fill="none" stroke="#7a5540" stroke-width="1.1" stroke-linejoin="round" stroke-linecap="round"/>
<polyline points="651,173 658,173 659,165.6" fill="none" stroke="#7a5540" stroke-width="1.1" stroke-linejoin="round" stroke-linecap="round"/>
<polyline points="635,169 630,168.5" fill="none" stroke="#7a5540" stroke-width="1.1" stroke-linejoin="round" stroke-linecap="round"/>
<polyline points="545,123.5 547,126.5 550.5,125.5" fill="none" stroke="#7a5540" stroke-width="1.1" stroke-linejoin="round" stroke-linecap="round"/>
</g>
<g id="mcA">
<ellipse cx="201.5" cy="190" rx="48.6" ry="44.2" fill="#953735" stroke="#7d2b2a" stroke-width="1.15"/>
<ellipse cx="132.3" cy="201.5" rx="13.1" ry="11.3" fill="#953735" stroke="#7d2b2a" stroke-width="1.15"/>
<ellipse cx="265.3" cy="168.8" rx="12.4" ry="11.6" fill="#f1d8da" stroke="#9c5661" stroke-width="1.1"/>
<ellipse cx="293.9" cy="162.5" rx="13.7" ry="11.7" fill="#dc9294" stroke="#9c5661" stroke-width="1.1"/>
<ellipse cx="262" cy="210" rx="14.8" ry="11.7" fill="#dc9294" stroke="#9c5661" stroke-width="1.1"/>
<ellipse cx="325.3" cy="142.4" rx="22.2" ry="20.3" fill="#953735" stroke="#7d2b2a" stroke-width="1.15"/>
<ellipse cx="375.5" cy="403.9" rx="43.2" ry="40" fill="#953735" stroke="#7a3f52" stroke-width="1.2"/>
<ellipse cx="355.4" cy="478.4" rx="40.9" ry="37.9" fill="#953735" stroke="#6a3a4a" stroke-width="1.0"/>
<ellipse cx="697.2" cy="216.7" rx="21.7" ry="18.8" fill="#df9094" stroke="#9c5661" stroke-width="1.1"/>
<ellipse cx="687.4" cy="217.2" rx="11" ry="10.7" fill="#ecb6b9" stroke="#9c5661" stroke-width="1.1"/>
<ellipse cx="769.8" cy="253.3" rx="21.3" ry="19.7" fill="#f1d8da" stroke="#9c5661" stroke-width="1.1"/>
<ellipse cx="751.75" cy="353.5" rx="14.4" ry="13.4" fill="#e7aeb2" stroke="#9c5661" stroke-width="1.1"/>
<ellipse cx="984.8" cy="227.5" rx="28.5" ry="28.1" fill="#f1d8da" stroke="#9c5661" stroke-width="1.1"/>
<ellipse cx="1053.4" cy="202.4" rx="34.5" ry="33" fill="#f1d8da" stroke="#9c5661" stroke-width="1.1"/>
<ellipse cx="1022.6" cy="232.1" rx="30.2" ry="28.8" fill="#f1d8da" stroke="#9c5661" stroke-width="1.1"/>
<ellipse cx="1058.5" cy="189.2" rx="26.9" ry="24.6" fill="#e6adb1" stroke="#9c5661" stroke-width="1.1"/>
<ellipse cx="1015.6" cy="245.3" rx="18.9" ry="17.8" fill="#e6adb1" stroke="#9c5661" stroke-width="1.1"/>
<ellipse cx="1012.6" cy="262.5" rx="14.4" ry="13.2" fill="#de8c92" stroke="#9c5661" stroke-width="1.1"/>
</g>
<rect x="530.6" y="95.6" width="181.1" height="117.7" fill="none" stroke="#66809a" stroke-width="1.1"/>
<line x1="530.6" y1="213.3" x2="455.9" y2="372.0" stroke="#66809a" stroke-width="1.1"/>
<line x1="711.7" y1="213.3" x2="1003.4" y2="372.0" stroke="#66809a" stroke-width="1.1"/>
<g id="mcB">
<ellipse cx="684.6" cy="178.7" rx="24.8" ry="23.5" fill="#eaa6aa" stroke="#9c5661" stroke-width="1.1"/>
<ellipse cx="682" cy="180" rx="21" ry="20" fill="#df9094" stroke="#9c5661" stroke-width="1.1"/>
<ellipse cx="680" cy="180.7" rx="13.5" ry="13.5" fill="#a83035" stroke="#a83035" stroke-width="1.15"/>
<ellipse cx="709.5" cy="178.2" rx="22.5" ry="20.9" fill="#ecb6b9" stroke="#9c5661" stroke-width="1.1"/>
<ellipse cx="699.3" cy="184.8" rx="13.9" ry="13.5" fill="#ecb6b9" stroke="#9c5661" stroke-width="1.1"/>
</g>
<rect x="455.9" y="372.0" width="547.5" height="383.29999999999995" fill="#fdd4b5"/>
<g clip-path="url(#ic)">
<polygon points="455.9,372.0 648,372.0 648.1,374.4 651.3,396.2 656.1,420.4 671.5,429.3 686.8,425.3 703.8,410.7 711.8,418 720.7,436.6 730.4,454.3 736.1,466.4 747.4,464.8 753,456 764.3,456 769.2,441.4 772.4,420.4 782.1,417.2 788.5,402.7 777.2,393 770.8,384.9 773.2,372.0 809.5,372.0 814.6,387.7 812,395.3 831,405.4 851.1,402.8 881.4,397.8 892.8,404.1 886.5,410.4 861.2,410.4 838.5,415.5 839.8,423 849.9,426.8 849.9,443.2 836,438.2 825.9,438.2 820.9,448.2 822.1,465.9 815,472 788.1,473.5 770.4,479.8 751.4,486.6 743.3,483.4 733.6,478.6 727.2,481.8 715.9,485 714.3,479.4 704.6,476.9 702.2,472.9 701.3,465.6 707,457.6 711.8,454.3 711,451.1 706.2,448.7 707.8,441.4 708.6,435 696.5,439.8 686.8,444.7 683.6,452.7 685.2,464 688.4,472.1 691.7,483.4 685.2,490.7 673.9,489.9 661,493.1 648.1,499.5 640,515 628,525 616,530 606,536 598.8,551.7 593.8,549 583.7,551.5 578.7,545.2 576.1,557.8 561,556.6 547.1,560.4 548.4,566.7 558.5,570.5 573.6,578 581.2,588.1 583.7,603.2 582.4,620.9 578.7,631 571.1,632.3 550.9,631 533.2,631 513.1,628.5 500.5,626 487.8,631 486.6,641.1 494.1,651.2 492.9,663.8 491.6,676.4 486.6,694.1 487.8,706.7 485.3,719.3 492.2,726.7 507.8,726.7 516.7,722.2 527.8,737.8 527.8,744.4 521.1,755.3 455.9,755.3" fill="#fff" stroke="#8a8682" stroke-width="1.1" stroke-linejoin="round"/>
<polygon points="527.8,737.8 538.9,733.3 565.6,728.9 583.3,717.8 592.2,704.4 596.3,697.8 606,688 615,672 624.1,661.3 631.6,648.7 634.2,639.8 649.3,634.8 664.4,633.5 677,634.8 687.1,628.5 700,620 715,622 722,630 730,643.6 737.6,651.2 750.2,661.3 762.8,668.8 772.9,673.9 783,684 786.8,696.6 784.3,709.2 788.1,711.7 793.1,701.6 799.4,694.1 795.6,684 800.7,678.9 810.8,684 814.6,681.5 808.3,676.4 795.6,666.3 785.5,657.5 775.5,651.2 762.8,638.6 752.7,620.9 750.2,600.7 757.8,605.8 770.4,618.4 783,628.5 798.2,638.6 813.3,648.7 823.4,656.2 825.9,668.8 831,681.5 838.5,691.5 848.6,704.2 850.6,711.8 854.1,724.1 862.9,733 873.5,732.1 870,721.5 873.5,715.3 882.4,711.8 875.3,697.7 870,690.6 864.7,678.3 875.3,673 882.4,680 880.6,671.2 893,669.4 902.7,667.7 903.5,673 907.1,678.3 915.9,673 915.9,678.3 907.1,688.8 912.4,697.7 910.6,706.5 919.4,715.3 926.5,725.9 938.9,731.2 953,736.5 963.6,731.2 977.7,731.2 990,738.3 1003.4,735.6 1003.4,755.3 727.8,755.3 723.3,735.6 727.8,724.4 721.1,726.7 707.8,722.2 685.6,722.2 663.3,726.7 636.7,728.9 605.6,733.3 578.9,744.4 570,751.1 543.3,746.7 527.8,744.4" fill="#fff" stroke="#8a8682" stroke-width="1.1" stroke-linejoin="round"/>
<polygon points="926.8,620.9 930.6,608.3 934.4,600.7 940.7,593.2 947,588.1 954.6,588.1 964.7,595.7 977.3,598.2 969.7,605.8 977.3,610.8 984.8,617.1 997.4,610.8 1003.3,608.3 1003.3,651.2 987.4,653.7 972.2,652.4 952,661.3 940,668 924.3,671.4 921.8,651.2 924.3,633.5" fill="#fff" stroke="#8a8682" stroke-width="1.1" stroke-linejoin="round"/>
<polygon points="996.2,590.6 1003.3,588 1003.3,601 998,598" fill="#fff" stroke="#8a8682" stroke-width="1.1" stroke-linejoin="round"/>
<polygon points="489,516 495.4,502.5 494.1,488.6 508,477.3 519.4,469.7 533,471 535,496 528,506 518,514 503,516.4" fill="#fdd4b5" stroke="#8a8682" stroke-width="1.1" stroke-linejoin="round"/>
<polygon points="535.8,440.7 544.6,424.3 558.5,423 575,428 570,445 585,455 600,470 612,490 630,500 634,512 625,520 632,524 614,525.2 601.4,529 576,531.5 556,536.5 540.8,541.6 534.5,539.1 543.3,531.5 553.4,526.5 544.6,518.9 542,513.8 552,512 556,500 548,492 556,480 545,470 548,455 538,450" fill="#fdd4b5" stroke="#8a8682" stroke-width="1.1" stroke-linejoin="round"/>
<polygon points="714.3,460.8 728.8,456.8 732,465.6 728,473.7 719.1,468.9" fill="#fdd4b5" stroke="#8a8682" stroke-width="1.1" stroke-linejoin="round"/>
<polygon points="702.3,641.1 707.3,639.8 711.1,661.3 705,664 701,652" fill="#fdd4b5" stroke="#8a8682" stroke-width="1.1" stroke-linejoin="round"/>
<polygon points="698.5,694.1 712.4,691.5 713.6,676.4 709,667 700,668 697,680" fill="#fdd4b5" stroke="#8a8682" stroke-width="1.1" stroke-linejoin="round"/>
<polygon points="745.6,711.1 770,706.7 781.1,704.4 776.7,717.8 778.9,726.7 761.1,722.2 747.8,717.8" fill="#fdd4b5" stroke="#8a8682" stroke-width="1.1" stroke-linejoin="round"/>
<polygon points="880.6,744.4 893,747.1 912.4,749.7 910.6,753.3 894.7,755 882.4,750.6" fill="#fdd4b5" stroke="#8a8682" stroke-width="1.1" stroke-linejoin="round"/>
<polygon points="984.7,752.4 993.6,748.9 1003.4,747.1 1003.4,754 990,754.5" fill="#fdd4b5" stroke="#8a8682" stroke-width="1.1" stroke-linejoin="round"/>
<polyline points="711.8,418 720.7,404.3 724,388.1 717.5,378.5 717.5,372" fill="none" stroke="#9c7c60" stroke-width="1.2" stroke-linejoin="round" stroke-linecap="round"/>
<polyline points="883.5,397.4 909,373" fill="none" stroke="#9c7c60" stroke-width="1.2" stroke-linejoin="round" stroke-linecap="round"/>
<polyline points="885.3,411 881.7,422.8 885.3,436.5" fill="none" stroke="#9c7c60" stroke-width="1.2" stroke-linejoin="round" stroke-linecap="round"/>
<polyline points="849.9,433.7 859.9,431 872.6,436.5 885.3,436.5" fill="none" stroke="#9c7c60" stroke-width="1.2" stroke-linejoin="round" stroke-linecap="round"/>
<polyline points="885.3,436.5 890.8,448.3 894.4,455.5" fill="none" stroke="#9c7c60" stroke-width="1.2" stroke-linejoin="round" stroke-linecap="round"/>
<polyline points="820.9,456.4 836.3,452.8 858.1,453.7 879.9,462.8 894.4,455.5" fill="none" stroke="#9c7c60" stroke-width="1.2" stroke-linejoin="round" stroke-linecap="round"/>
<polyline points="879.9,462.8 879.9,470.1 872.6,475.5 869.9,482.8 854.5,486.4" fill="none" stroke="#9c7c60" stroke-width="1.2" stroke-linejoin="round" stroke-linecap="round"/>
<polyline points="822.7,466.4 838,468 852,472 854.5,486.4 845,488 822,485" fill="none" stroke="#9c7c60" stroke-width="1.2" stroke-linejoin="round" stroke-linecap="round"/>
<polyline points="894.4,455.5 907.1,459.2 921.7,461.9 927.1,470.1 930.7,479.1 939.8,488.2 950.7,493.7 938,497.3 943.5,511.8" fill="none" stroke="#9c7c60" stroke-width="1.2" stroke-linejoin="round" stroke-linecap="round"/>
<polyline points="859.6,516.8 878.7,514.4 902.7,519.2 926.7,521.6 933.9,512 943.4,510.8" fill="none" stroke="#9c7c60" stroke-width="1.2" stroke-linejoin="round" stroke-linecap="round"/>
<polyline points="943.4,510.8 960.2,508.4 972.2,516.8 984.2,524 991.3,533.5 1003.3,537.1" fill="none" stroke="#9c7c60" stroke-width="1.2" stroke-linejoin="round" stroke-linecap="round"/>
<polyline points="854.5,486.4 857,498 854.8,509.6 862,528.7 854.8,545.5 847.6,551.5" fill="none" stroke="#9c7c60" stroke-width="1.2" stroke-linejoin="round" stroke-linecap="round"/>
<polyline points="691.2,473.2 703.5,473.2" fill="none" stroke="#9c7c60" stroke-width="1.2" stroke-linejoin="round" stroke-linecap="round"/>
<polyline points="674.4,490.9 673.5,504.1 670,515 662.9,537.7" fill="none" stroke="#9c7c60" stroke-width="1.2" stroke-linejoin="round" stroke-linecap="round"/>
<polyline points="750.3,488.2 752.1,497.1 757.4,509.4 760,525.3" fill="none" stroke="#9c7c60" stroke-width="1.2" stroke-linejoin="round" stroke-linecap="round"/>
<polyline points="760,525.3 749.4,528.8 735.3,535.9 733.6,539.4 738.9,548.3 747.7,558.9" fill="none" stroke="#9c7c60" stroke-width="1.2" stroke-linejoin="round" stroke-linecap="round"/>
<polyline points="760,525.3 770.6,529.7 781.2,535.9 790,535.9 798.9,543 804.5,547.9" fill="none" stroke="#9c7c60" stroke-width="1.2" stroke-linejoin="round" stroke-linecap="round"/>
<polyline points="747.7,558.9 761.8,556.2 770.6,558.9 786.5,558 793.6,553.6 798.9,543" fill="none" stroke="#9c7c60" stroke-width="1.2" stroke-linejoin="round" stroke-linecap="round"/>
<polyline points="804.5,547.9 814.1,549.1 830.8,551.5 847.6,551.5" fill="none" stroke="#9c7c60" stroke-width="1.2" stroke-linejoin="round" stroke-linecap="round"/>
<polyline points="788.9,559.9 792.5,569.5 806.9,569.5 826,562.3 845.2,563.5 847.6,551.5" fill="none" stroke="#9c7c60" stroke-width="1.2" stroke-linejoin="round" stroke-linecap="round"/>
<polyline points="846.4,563.5 852.4,569.5" fill="none" stroke="#9c7c60" stroke-width="1.2" stroke-linejoin="round" stroke-linecap="round"/>
<polyline points="852.4,569.5 842.8,581.5 838,591 829.6,595.8" fill="none" stroke="#9c7c60" stroke-width="1.2" stroke-linejoin="round" stroke-linecap="round"/>
<polyline points="829.6,595.8 814.1,598.2 797.3,593.4 784.1,586.2" fill="none" stroke="#9c7c60" stroke-width="1.2" stroke-linejoin="round" stroke-linecap="round"/>
<polyline points="784.1,586.2 782.9,579.1 787.7,569.5 788.9,559.9 786.5,558" fill="none" stroke="#9c7c60" stroke-width="1.2" stroke-linejoin="round" stroke-linecap="round"/>
<polyline points="747.7,558.9 742.4,564.1 743.3,573 728.3,576.5 715,572 693,573 684.1,574.7" fill="none" stroke="#9c7c60" stroke-width="1.2" stroke-linejoin="round" stroke-linecap="round"/>
<polyline points="684.1,574.7 682.4,569.4 687.7,555.3 682.4,553.6 666.5,548.3 662.1,539.4" fill="none" stroke="#9c7c60" stroke-width="1.2" stroke-linejoin="round" stroke-linecap="round"/>
<polyline points="651.8,542.7 664.4,547.7 667,540.2" fill="none" stroke="#9c7c60" stroke-width="1.2" stroke-linejoin="round" stroke-linecap="round"/>
<polyline points="640,520 655,524 665,528" fill="none" stroke="#9c7c60" stroke-width="1.2" stroke-linejoin="round" stroke-linecap="round"/>
<polyline points="684.1,574.7 675.3,580 666.5,587.1 670,592.4 675.3,599.5" fill="none" stroke="#9c7c60" stroke-width="1.2" stroke-linejoin="round" stroke-linecap="round"/>
<polyline points="675.3,599.5 685,603 698,597 708,592 715,586 715,572" fill="none" stroke="#9c7c60" stroke-width="1.2" stroke-linejoin="round" stroke-linecap="round"/>
<polyline points="715,586 730,589 745.9,587.1 754.7,589.7 763.6,590.6 783,587.1" fill="none" stroke="#9c7c60" stroke-width="1.2" stroke-linejoin="round" stroke-linecap="round"/>
<polyline points="684.6,628.5 678.3,620.9 679.6,608.3 675.8,598.2" fill="none" stroke="#9c7c60" stroke-width="1.2" stroke-linejoin="round" stroke-linecap="round"/>
<polyline points="578.7,631 591.3,633.5 611.5,641.1 626.6,648.7 631.6,648.7" fill="none" stroke="#9c7c60" stroke-width="1.2" stroke-linejoin="round" stroke-linecap="round"/>
<polyline points="494,651 503.2,650.5 506.1,656.3 522.1,658.5 519.9,665.8 514.8,675.9 515.5,684.6 510.5,687.5 514.1,696.2 514.8,707.8 509,719.4 510.5,726.5" fill="none" stroke="#9c7c60" stroke-width="1.2" stroke-linejoin="round" stroke-linecap="round"/>
<polyline points="516.9,477.3 518.1,484.8 525.7,486.1 530.7,481" fill="none" stroke="#9c7c60" stroke-width="1.2" stroke-linejoin="round" stroke-linecap="round"/>
<polyline points="852.4,569.5 869.2,571.9 888.3,569.5 897.9,564.7" fill="none" stroke="#9c7c60" stroke-width="1.2" stroke-linejoin="round" stroke-linecap="round"/>
<polyline points="897.9,564.7 912.3,567.1 926.7,576.7 933.9,591 926.7,593.4 924.3,603 933.9,607.8" fill="none" stroke="#9c7c60" stroke-width="1.2" stroke-linejoin="round" stroke-linecap="round"/>
<polyline points="897.9,564.7 907.5,574.3 917.1,588.6 920.7,603 933.9,607.8" fill="none" stroke="#9c7c60" stroke-width="1.2" stroke-linejoin="round" stroke-linecap="round"/>
<polyline points="854.8,617.4 859.6,627 878.7,629.4 900.3,625.8 917.1,623.4 926.7,627" fill="none" stroke="#9c7c60" stroke-width="1.2" stroke-linejoin="round" stroke-linecap="round"/>
<polyline points="829.6,595.8 840.4,605.4 847.6,612.6 854.8,617.4" fill="none" stroke="#9c7c60" stroke-width="1.2" stroke-linejoin="round" stroke-linecap="round"/>
<polyline points="814.1,598.2 818.9,607.8 817.7,619.8 822.4,631.8 830.8,639 833.2,643.7" fill="none" stroke="#9c7c60" stroke-width="1.2" stroke-linejoin="round" stroke-linecap="round"/>
<polyline points="854.8,617.4 859.6,634.2 862,646.1 854.8,650.9" fill="none" stroke="#9c7c60" stroke-width="1.2" stroke-linejoin="round" stroke-linecap="round"/>
<polyline points="833.2,643.7 840.4,636.6 847.6,641.3 850,649.7 854.8,650.9" fill="none" stroke="#9c7c60" stroke-width="1.2" stroke-linejoin="round" stroke-linecap="round"/>
<polyline points="850,649.7 840.4,653.3 836.8,662.9 847.6,667.7 862,665.3 865.6,655.7 862,646.1" fill="none" stroke="#9c7c60" stroke-width="1.2" stroke-linejoin="round" stroke-linecap="round"/>
<polyline points="865.6,655.7 878.7,662.9 900.3,664.1 905.1,655.7 917.1,655.7" fill="none" stroke="#9c7c60" stroke-width="1.2" stroke-linejoin="round" stroke-linecap="round"/>
<polyline points="905.1,655.7 912.3,653.3 921.8,651.2" fill="none" stroke="#9c7c60" stroke-width="1.2" stroke-linejoin="round" stroke-linecap="round"/>
<polyline points="826,646.1 830.8,653.3 836.8,662.9 838,672.5 833.2,682.1" fill="none" stroke="#9c7c60" stroke-width="1.2" stroke-linejoin="round" stroke-linecap="round"/>
<polyline points="754.2,591 766.1,588.6 784.1,586.2 780.5,595.8 770.9,603 755.4,600.6" fill="none" stroke="#9c7c60" stroke-width="1.2" stroke-linejoin="round" stroke-linecap="round"/>
<polyline points="779.3,610.2 785.3,607.8 806.9,610.2 817.7,612.6" fill="none" stroke="#9c7c60" stroke-width="1.2" stroke-linejoin="round" stroke-linecap="round"/>
<polyline points="779.3,610.2 782.9,619.8 797.3,631.8 811.7,641.3 816.5,643.7" fill="none" stroke="#9c7c60" stroke-width="1.2" stroke-linejoin="round" stroke-linecap="round"/>
<polyline points="817.7,619.8 816.5,629.4 814.1,639 816.5,643.7" fill="none" stroke="#9c7c60" stroke-width="1.2" stroke-linejoin="round" stroke-linecap="round"/>
<polyline points="816.5,643.7 826,646.1 833.2,643.7" fill="none" stroke="#9c7c60" stroke-width="1.2" stroke-linejoin="round" stroke-linecap="round"/>
<polyline points="770.9,603 779.3,610.2" fill="none" stroke="#9c7c60" stroke-width="1.2" stroke-linejoin="round" stroke-linecap="round"/>
<polyline points="917.1,655.7 914.2,664 912,672" fill="none" stroke="#9c7c60" stroke-width="1.2" stroke-linejoin="round" stroke-linecap="round"/>
<polyline points="570,751 566,756" fill="none" stroke="#9c7c60" stroke-width="1.2" stroke-linejoin="round" stroke-linecap="round"/>
<polyline points="696.7,723 695,735 697.5,745 696.7,756" fill="none" stroke="#9c7c60" stroke-width="1.2" stroke-linejoin="round" stroke-linecap="round"/>
<ellipse cx="812.9" cy="503.5" rx="40.7" ry="36.8" fill="#d99694" stroke="#a9686c" stroke-width="1.15"/>
<ellipse cx="743.9" cy="520.9" rx="7" ry="6.6" fill="#d99694" stroke="#a9686c" stroke-width="1.15"/>
<ellipse cx="735.4" cy="557.4" rx="7.25" ry="6.8" fill="#d99694" stroke="#a9686c" stroke-width="1.15"/>
<ellipse cx="588.5" cy="471.3" rx="58.3" ry="55.1" fill="#953735" stroke="#7d2b2a" stroke-width="1.15"/>
<ellipse cx="598.1" cy="511.2" rx="12.9" ry="11.997000000000002" fill="none" stroke="#e9a9aa" stroke-width="1.7"/>
<ellipse cx="673.3" cy="522.7" rx="8.3" ry="7.8" fill="#953735" stroke="#7d2b2a" stroke-width="1.15"/>
<ellipse cx="679" cy="510.6" rx="6.7" ry="6.3" fill="#f2dcdb" stroke="#a9686c" stroke-width="1.15"/>
<ellipse cx="647.7" cy="522" rx="19.3" ry="18.3" fill="#632523" stroke="#7d2b2a" stroke-width="1.15"/>
<ellipse cx="592.5" cy="598.2" rx="12.4" ry="11.6" fill="#d99694" stroke="#a9686c" stroke-width="1.15"/>
<ellipse cx="627.8" cy="610.3" rx="13.1" ry="12.2" fill="#d99694" stroke="#a9686c" stroke-width="1.15"/>
<ellipse cx="654.3" cy="605.8" rx="15.4" ry="14.4" fill="#d99694" stroke="#a9686c" stroke-width="1.15"/>
<ellipse cx="625.1" cy="566.9" rx="33.8" ry="31.8" fill="#d99694" stroke="#a9686c" stroke-width="1.15"/>
<ellipse cx="627.8" cy="562.4" rx="12.4" ry="11.532000000000002" fill="none" stroke="#b87478" stroke-width="1.2"/>
<ellipse cx="670.6" cy="563.8" rx="11.8" ry="10.9" fill="#953735" stroke="#7d2b2a" stroke-width="1.15"/>
<ellipse cx="673" cy="570.7" rx="6.3" ry="5.9" fill="#d99694" stroke="#a9686c" stroke-width="1.15"/>
<ellipse cx="664.6" cy="574.1" rx="8" ry="7.5" fill="#d99694" stroke="#a9686c" stroke-width="1.15"/>
<ellipse cx="499.2" cy="637.3" rx="12.6" ry="11.8" fill="#d99694" stroke="#a9686c" stroke-width="1.15"/>
<ellipse cx="567" cy="694.9" rx="25.4" ry="24.8" fill="#f2dcdb" stroke="#a9686c" stroke-width="1.15"/>
<ellipse cx="597.6" cy="667.6" rx="27.1" ry="24.7" fill="#d99694" stroke="#a9686c" stroke-width="1.15"/>
<ellipse cx="568" cy="645.1" rx="16.2" ry="14.3" fill="#953735" stroke="#7d2b2a" stroke-width="1.15"/>
<ellipse cx="555.4" cy="691.6" rx="13.8" ry="14" fill="#d99694" stroke="#a9686c" stroke-width="1.15"/>
<ellipse cx="552.2" cy="670.1" rx="7.9" ry="7.1" fill="#e6b9b8" stroke="#a9686c" stroke-width="1.15"/>
<ellipse cx="541.1" cy="688.7" rx="17.3" ry="16" fill="#953735" stroke="#7d2b2a" stroke-width="1.15"/>
<ellipse cx="687.1" cy="670.1" rx="18.9" ry="19.8" fill="#953735" stroke="#7d2b2a" stroke-width="1.15"/>
<ellipse cx="688.4" cy="663.8" rx="11.5" ry="10.695" fill="none" stroke="#e9a9aa" stroke-width="1.7"/>
<ellipse cx="696.7" cy="671.4" rx="8" ry="7.44" fill="none" stroke="#e9a9aa" stroke-width="1.7"/>
<ellipse cx="724.3" cy="590.4" rx="21.4" ry="20.2" fill="#953735" stroke="#953735" stroke-width="1.15"/>
<ellipse cx="701.3" cy="598.8" rx="17.5" ry="16.7" fill="#953735" stroke="#953735" stroke-width="1.15"/>
<ellipse cx="701.3" cy="622" rx="11.2" ry="10" fill="#d99694" stroke="#a9686c" stroke-width="1.15"/>
<ellipse cx="712.5" cy="601.5" rx="15.9" ry="14.5" fill="#d99694" stroke="#d99694" stroke-width="1.15"/>
<ellipse cx="708.1" cy="602.7" rx="7.7" ry="7.1" fill="#e6b9b8" stroke="#dfa2a4" stroke-width="1.15"/>
<ellipse cx="731.9" cy="616.9" rx="18.9" ry="17.8" fill="#953735" stroke="#953735" stroke-width="1.15"/>
<ellipse cx="728.1" cy="635.9" rx="11" ry="10.4" fill="#953735" stroke="#953735" stroke-width="1.15"/>
<ellipse cx="728.7" cy="615.3" rx="12.4" ry="11.532000000000002" fill="none" stroke="#e9a9aa" stroke-width="1.7"/>
<ellipse cx="747.7" cy="658.2" rx="10.3" ry="9.6" fill="#d99694" stroke="#a9686c" stroke-width="1.15"/>
<ellipse cx="758.3" cy="661.8" rx="8.2" ry="7.7" fill="#e6b9b8" stroke="#a9686c" stroke-width="1.15"/>
<ellipse cx="804.5" cy="670.6" rx="8.3" ry="7.8" fill="#953735" stroke="#7d2b2a" stroke-width="1.15"/>
<ellipse cx="928.8" cy="660" rx="16.8" ry="15.7" fill="#e6b9b8" stroke="#a9686c" stroke-width="1.15"/>
<ellipse cx="973" cy="665.8" rx="13.2" ry="12.4" fill="#e6b9b8" stroke="#a9686c" stroke-width="1.15"/>
<ellipse cx="956.3" cy="689" rx="8.2" ry="7.7" fill="#e6b9b8" stroke="#a9686c" stroke-width="1.15"/>
<ellipse cx="939.4" cy="667.6" rx="13.6" ry="12.7" fill="#d99694" stroke="#a9686c" stroke-width="1.15"/>
<ellipse cx="939.9" cy="670.9" rx="8.2" ry="7.7" fill="#953735" stroke="#7d2b2a" stroke-width="1.15"/>
</g>
<rect x="455.9" y="372.0" width="547.5" height="383.29999999999995" fill="none" stroke="#7b90a8" stroke-width="1"/>
<rect x="145" y="573.2" width="81.3" height="22.6" fill="#f2dcdb"/>
<rect x="145" y="598.6" width="81.3" height="22.6" fill="#e6b9b8"/>
<rect x="145" y="623.6" width="81.3" height="22.6" fill="#d99694"/>
<rect x="145" y="648.4" width="81.3" height="22.6" fill="#953735"/>
<rect x="145" y="673.2" width="81.3" height="22.6" fill="#632523"/>
</svg>
<div class="lg" style="top:577.5px">0-19.9</div>
<div class="lg" style="top:602.8px">20-39.9</div>
<div class="lg" style="top:627.6px">40-59.9</div>
<div class="lg" style="top:652.0px">60-79.9</div>
<div class="lg" style="top:677.2px">80-100</div>
<div id="frame"></div>
</body></html>
